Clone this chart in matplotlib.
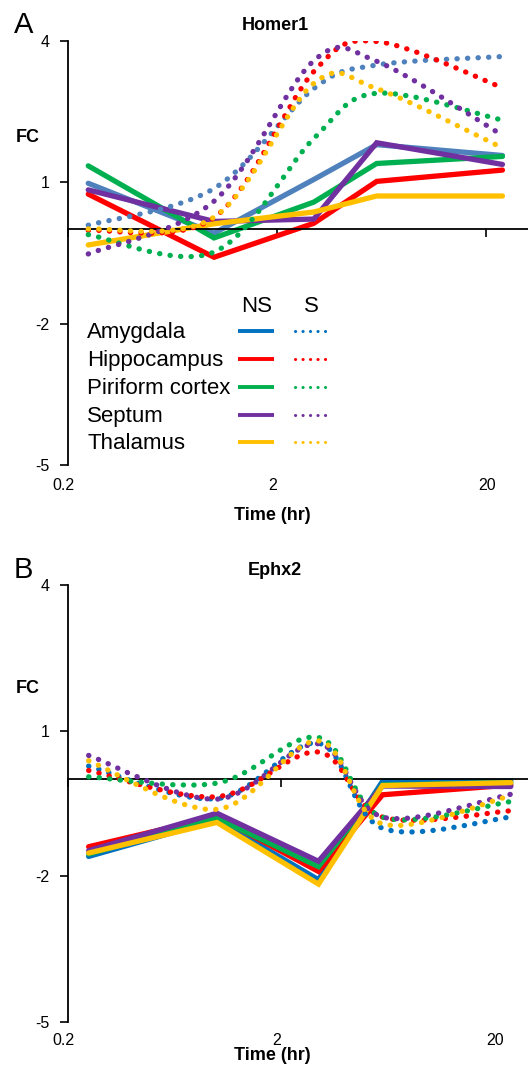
import matplotlib
matplotlib.use("Agg")
import numpy as np
import matplotlib.pyplot as plt
import matplotlib.transforms as mtransforms
from matplotlib.path import Path
from matplotlib.patches import PathPatch
from matplotlib.lines import Line2D
from matplotlib.ticker import NullLocator

plt.rcParams['font.family'] = ['Liberation Sans', 'DejaVu Sans']

# ---------------- data ----------------
times = [0.25, 1, 3, 6, 24]
regions = ['Amygdala', 'Hippocampus', 'Piriform cortex', 'Septum', 'Thalamus']
x_tick_values = [0.2, 2, 20]
x_tick_labels = ['0.2', '2', '20']
y_tick_values = [4, 1, -2, -5]

# Homer1 (panel A) – order follows `regions`
homer1_ns = [
    [0.98, -0.08, 1.06, 1.80, 1.57],
    [0.75, -0.59, 0.13, 1.02, 1.26],
    [1.35, -0.18, 0.58, 1.40, 1.55],
    [0.84, 0.17, 0.22, 1.84, 1.38],
    [-0.33, 0.12, 0.37, 0.71, 0.71],
]
homer1_s = [
    [0.09, 0.87, 2.99, 3.49, 3.67],
    [-0.02, 0.25, 3.35, 3.99, 3.01],
    [-0.11, -0.48, 1.93, 2.89, 2.32],
    [-0.52, 0.60, 3.58, 3.57, 2.00],
    [0.01, 0.26, 3.10, 2.99, 1.73],
]
# Ephx2 (panel B)
ephx2_ns = [
    [-1.59, -0.84, -2.07, -0.04, -0.04],
    [-1.39, -0.77, -1.90, -0.32, -0.12],
    [-1.54, -0.80, -1.80, -0.12, -0.07],
    [-1.47, -0.70, -1.69, -0.14, -0.15],
    [-1.52, -0.89, -2.16, -0.13, -0.07],
]
ephx2_s = [
    [0.27, -0.40, 0.74, -1.01, -0.78],
    [0.18, -0.36, 0.56, -0.78, -0.65],
    [0.05, -0.08, 0.86, -0.78, -0.46],
    [0.49, -0.41, 0.73, -0.78, -0.31],
    [0.38, -0.62, 0.79, -0.92, -0.34],
]

colors_A = ['#4F81BD', '#FF0000', '#00B050', '#7030A0', '#FFC000']
colors_B = ['#0070C0', '#FF0000', '#00B050', '#7030A0', '#FFC000']
legend_colors = ['#0070C0', '#FF0000', '#00B050', '#7030A0', '#FFC000']

# ---------------- layout helpers ----------------
W, H = 528, 1077
fig = plt.figure(figsize=(W / 100, H / 100), dpi=100)


def fx(px):
    return px / W


def fy(py):
    return 1 - py / H


def smooth_path(xs, ys):
    """Bezier path (Excel-like smoothing) through the data points in log-x space."""
    pts = np.column_stack([np.log10(xs), np.asarray(ys, dtype=float)])
    n = len(pts)
    verts = [pts[0]]
    codes = [Path.MOVETO]
    for i in range(n - 1):
        p0 = pts[max(i - 1, 0)]
        p1 = pts[i]
        p2 = pts[i + 1]
        p3 = pts[min(i + 2, n - 1)]
        c1 = p1 + (p2 - p0) / 6.0
        c2 = p2 - (p3 - p1) / 6.0
        verts += [c1, c2, p2]
        codes += [Path.CURVE4] * 3
    verts = np.array(verts)
    verts[:, 0] = 10 ** verts[:, 0]
    return Path(verts, codes)


label_dx_px = [-5, -4, 1]


def make_panel(rect, xlim, ns, s, colors, title, letter, geom):
    ax = fig.add_axes(rect)
    ax.set_xscale('log')
    ax.set_xlim(*xlim)
    ax.set_ylim(-5, 4)
    for sp in ['top', 'right']:
        ax.spines[sp].set_visible(False)
    ax.spines['bottom'].set_position(('data', 0))
    ax.spines['bottom'].set_linewidth(1.3)
    ax.spines['left'].set_linewidth(1.3)
    ax.set_xticks(x_tick_values)
    ax.xaxis.set_minor_locator(NullLocator())
    ax.tick_params(axis='x', direction='out', length=5.8, width=1.2,
                   labelbottom=False)
    ax.set_yticks(y_tick_values)
    ax.set_yticklabels([str(v) for v in y_tick_values])
    ax.tick_params(axis='y', direction='out', length=5.5, width=1.2, pad=8,
                   labelsize=11.5)

    for vals, c in zip(ns, colors):
        ax.plot(times, vals, color=c, lw=3.8, solid_capstyle='round',
                solid_joinstyle='miter', zorder=2)
    for vals, c in zip(s, colors):
        patch = PathPatch(smooth_path(times, vals), fill=False, edgecolor=c,
                          lw=3.8, linestyle=(0, (0.05, 1.95)),
                          capstyle='round', zorder=3)
        ax.add_patch(patch)

    blend = mtransforms.blended_transform_factory(ax.transData, fig.transFigure)
    for xv, lab, dx in zip(x_tick_values, x_tick_labels, label_dx_px):
        tr = blend + mtransforms.ScaledTranslation(dx / 100, 0, fig.dpi_scale_trans)
        ax.text(xv, fy(geom['xlab_base']), lab, transform=tr,
                ha='center', va='baseline', fontsize=11.5)

    fig.text(fx(275), fy(geom['title_base']), title, ha='center',
             va='baseline', fontsize=13, fontweight='bold')
    fig.text(fx(28), fy(geom['fc_base']), 'FC', ha='center', va='baseline',
             fontsize=13, fontweight='bold')
    fig.text(fx(272), fy(geom['time_c']), 'Time (hr)', ha='center',
             va='center', fontsize=13, fontweight='bold')
    fig.text(fx(14), fy(geom['letter_base']), letter, ha='left',
             va='baseline', fontsize=21)
    return ax


axA = make_panel([fx(68), fy(465), fx(528) - fx(68), fy(41) - fy(465)],
                 (0.2, 31.8), homer1_ns, homer1_s, colors_A, 'Homer1', 'A',
                 dict(xlab_base=490, title_base=30, fc_base=141.5,
                      time_c=515, letter_base=33))
axB = make_panel([fx(68), fy(1022), fx(528) - fx(68), fy(585) - fy(1022)],
                 (0.2, 28.9), ephx2_ns, ephx2_s, colors_B, 'Ephx2', 'B',
                 dict(xlab_base=1045, title_base=575, fc_base=693,
                      time_c=1056, letter_base=578))

# ---------------- legend (panel A) ----------------
fig.text(fx(257), fy(311.5), 'NS', ha='center', va='baseline', fontsize=16)
fig.text(fx(311), fy(311.5), 'S', ha='center', va='baseline', fontsize=16)
row_base = [338, 366, 394, 422, 449]
for name, c, yb in zip(regions, legend_colors, row_base):
    fig.text(fx(87), fy(yb), name, ha='left', va='baseline', fontsize=16)
    yl = yb - 7
    fig.add_artist(Line2D([fx(238), fx(274)], [fy(yl), fy(yl)],
                          transform=fig.transFigure, color=c, lw=2.8,
                          solid_capstyle='butt'))
    fig.add_artist(Line2D([fx(295), fx(326)], [fy(yl), fy(yl)],
                          transform=fig.transFigure, color=c, lw=2.2,
                          linestyle=(0, (0.05, 2.4)), dash_capstyle='round'))

fig.savefig('out.png', dpi=100)
